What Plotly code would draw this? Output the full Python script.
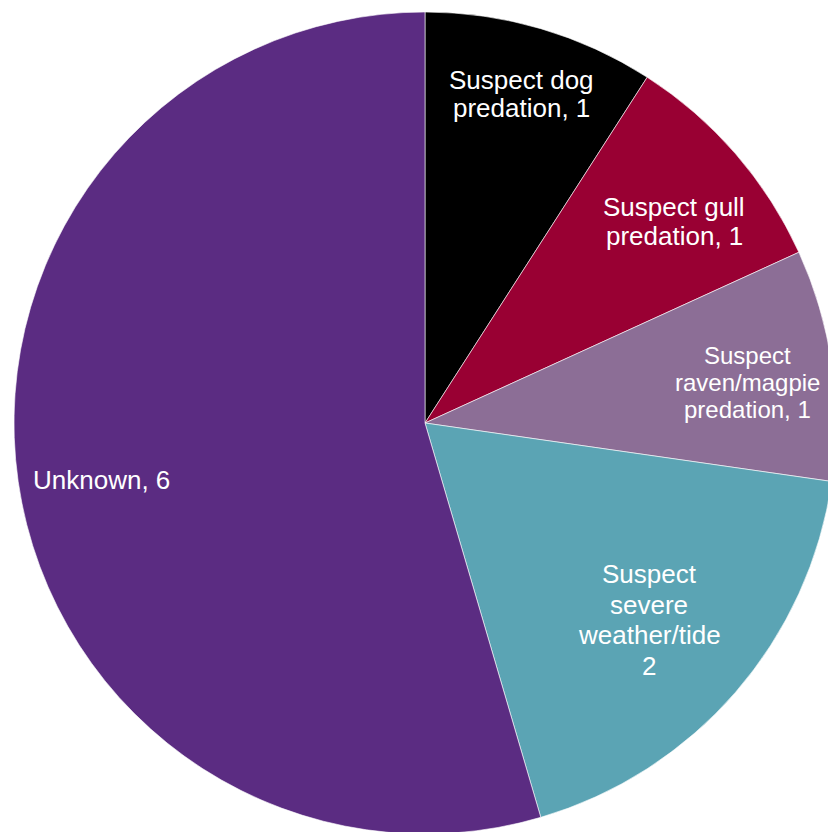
import math
import plotly.graph_objects as go

# Causes of nest loss (counts)
categories = [
    "Suspect dog predation",
    "Suspect gull predation",
    "Suspect raven/magpie predation",
    "Suspect severe weather/tide",
    "Unknown",
]
counts = [1, 1, 1, 2, 6]

# Wrapped label lines; {v} is replaced with the slice value
label_lines = [
    ["Suspect dog", "predation, {v}"],
    ["Suspect gull", "predation, {v}"],
    ["Suspect", "raven/magpie", "predation, {v}"],
    ["Suspect", "severe", "weather/tide", "{v}"],
    ["Unknown, {v}"],
]

colors = ["#000000", "#990033", "#8C6E96", "#5BA4B4", "#5B2C82"]

# label placement: radial fraction of the pie radius and small angular nudge (deg)
label_radius = [0.834, 0.78, 0.79, 0.726, 0.80]
label_nudge = [0.0, 2.0, 1.0, 0.4, -1.8]
label_size = [26, 26, 24, 26, 26]
label_leading = [28, 29, 27, 30.5, 29]

W, H = 850, 850
L, T, R, B = 14, 12, 14, 16
plot_w = W - L - R
plot_h = H - T - B

fig = go.Figure(
    go.Pie(
        labels=categories,
        values=counts,
        sort=False,
        direction="clockwise",
        rotation=0,
        marker=dict(colors=colors, line=dict(color="#FFFFFF", width=0.6)),
        textinfo="none",
        hoverinfo="label+value",
        showlegend=False,
    )
)

total = sum(counts)
cum = 0.0
annotations = []
for i, v in enumerate(counts):
    mid = (cum + v / 2) / total * 360 + label_nudge[i]
    cum += v
    rad = math.radians(mid)
    rr = label_radius[i] * 0.5  # pie radius is half the (square) domain
    px = 0.5 + rr * math.sin(rad) * min(plot_w, plot_h) / plot_w
    py = 0.5 + rr * math.cos(rad) * min(plot_w, plot_h) / plot_h
    lines = [s.replace("{v}", str(v)) for s in label_lines[i]]
    n = len(lines)
    for j, line in enumerate(lines):
        annotations.append(
            dict(
                x=px,
                y=py,
                xref="paper",
                yref="paper",
                text=line,
                showarrow=False,
                xanchor="center",
                yanchor="middle",
                yshift=-(j - (n - 1) / 2) * label_leading[i],
                font=dict(family="Liberation Sans, Arial, sans-serif", size=label_size[i], color="#FFFFFF"),
            )
        )

fig.update_layout(
    width=W,
    height=H,
    margin=dict(l=L, r=R, t=T, b=B, pad=0),
    paper_bgcolor="#FFFFFF",
    plot_bgcolor="#FFFFFF",
    annotations=annotations,
)

fig.write_html(
    "out.html",
    post_script="document.body.style.margin='0';document.body.style.overflow='hidden';",
)
